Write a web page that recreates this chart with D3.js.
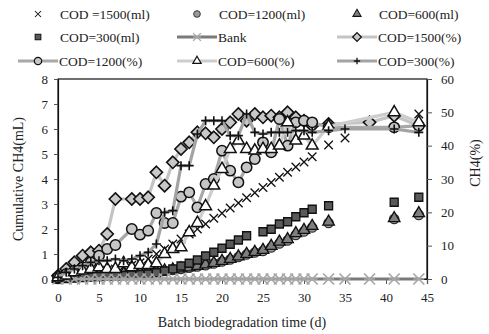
<!DOCTYPE html>
<html lang="en">
<head>
<meta charset="UTF-8">
<title>Cumulative CH4 and CH4 content</title>
<script src="https://d3js.org/d3.v7.min.js"></script>
<style>
  body { margin: 0; background: #fff; }
  text { font-family: "Liberation Serif", "Times New Roman", serif; fill: #222; }
  .tick text { font-size: 13px; }
  .legend text { font-size: 13.5px; }
</style>
</head>
<body>
<svg width="489" height="334"></svg>
<script>
// sampling days
const days = [0,1,2,3,4,5,6,7,8,9,10,11,12,13,14,15,16,17,18,19,20,21,22,23,24,25,26,27,28,29,30,31,33,35,38,41,44];

// cumulative CH4 (mL), left axis
const cod1500ml = [0.05,0.1,0.15,0.2,0.25,0.3,0.35,0.4,0.5,0.55,0.65,0.8,1.0,1.2,1.4,1.6,1.8,2.0,2.2,2.43,2.63,2.84,3.04,3.25,3.45,3.66,3.86,4.07,4.27,4.48,4.68,4.89,5.36,5.64,null,null,6.6];
const cod1200ml = [0,0.05,0.08,0.1,0.12,0.14,0.15,0.16,0.18,0.2,0.22,0.25,0.28,0.32,0.36,0.4,0.45,0.5,0.55,0.62,0.7,0.78,0.88,0.98,1.06,1.12,1.26,1.42,1.54,1.76,1.9,2.06,2.24,null,null,2.4,2.56];
const cod600ml = [0,0.05,0.1,0.12,0.14,0.16,0.18,0.2,0.22,0.24,0.26,0.28,0.3,0.34,0.38,0.42,0.46,0.52,0.58,0.64,0.72,0.8,0.9,1.0,1.08,1.16,1.32,1.49,1.59,1.83,1.96,2.12,2.29,null,null,2.43,2.63];
const cod300ml = [0,0.02,0.04,0.06,0.08,0.1,0.12,0.13,0.14,0.16,0.18,0.2,0.25,0.32,0.4,0.52,0.63,0.76,0.92,1.07,1.23,1.39,1.56,1.73,null,1.89,1.99,2.2,2.29,2.49,2.65,2.79,2.93,null,null,3.07,3.27];

// CH4 content (%), right axis
const bank = days.map(() => 0);
const cod1500pct = [1,3,5,7,8,8.5,13.5,24,null,24,24,24.5,32,28,35,39,41,44,43.7,42.5,45,47,49.5,47.5,49.5,48.5,49,48.5,50,48.5,47.5,46,46.5,null,47,49,46];
const cod1200pct = [0.5,1.5,2.5,3.5,5,7,9,10.2,null,15,13.3,14.5,19.8,16.8,16.8,24.7,26,21.5,28.5,30,38.5,32.5,29,33.5,36,41,38,48,40,47,47.5,47,45.5,null,null,45.5,46];
const cod600pct = [0.5,1,2,2.5,3,3.5,3,3,4.7,3.5,4.2,4.2,4.7,7.5,9,9.5,14,16.8,21.8,28,33,39,41.5,39,38.5,39,39,40,47,41.5,43,40,45.8,null,null,50,47];
const cod300pct = [0.5,2,3,4,5,5.5,5.5,6,5.5,6,7,8,10.5,20,20.5,34,34,43.5,47.5,47.5,47.5,43,43,49.5,44,43.5,44,44,44,44.5,44.5,44,44.5,45,null,45,44];

const xTicks = [0,5,10,15,20,25,30,35,40,45];
const leftTicks = [0,1,2,3,4,5,6,7,8];
const rightTicks = [0,10,20,30,40,50,60];

const svg = d3.select("svg");
const plot = {left: 58, right: 427, top: 79, bottom: 279};

const x = d3.scaleLinear().domain([0, 45]).range([plot.left, plot.right]);
const yL = d3.scaleLinear().domain([0, 8]).range([plot.bottom, plot.top]);
const yR = d3.scaleLinear().domain([0, 60]).range([plot.bottom, plot.top]);

// custom marker shapes (Excel-like)
const times = {draw(c, s) { const r = Math.sqrt(s) / 2; c.moveTo(-r, -r); c.lineTo(r, r); c.moveTo(r, -r); c.lineTo(-r, r); }};
const plus = {draw(c, s) { const r = Math.sqrt(s) / 2; c.moveTo(-r, 0); c.lineTo(r, 0); c.moveTo(0, -r); c.lineTo(0, r); }};
const star = {draw(c, s) { const r = Math.sqrt(s) / 2; c.moveTo(-r, -r); c.lineTo(r, r); c.moveTo(r, -r); c.lineTo(-r, r); c.moveTo(-r, 0); c.lineTo(r, 0); }};
const diamond = {draw(c, s) { const r = Math.sqrt(s) / 2; c.moveTo(0, -r); c.lineTo(r, 0); c.lineTo(0, r); c.lineTo(-r, 0); c.closePath(); }};

const series = [
  {name: "COD =1500(ml)", values: cod1500ml, y: yL, shape: times, size: 72, fill: "none", stroke: "#111", sw: 1.3},
  {name: "COD=1200(ml)", values: cod1200ml, y: yL, shape: d3.symbolCircle, size: 70, fill: "#9a9a9a", stroke: "#333", sw: 1.2},
  {name: "COD=600(ml)", values: cod600ml, y: yL, shape: d3.symbolTriangle, size: 58, fill: "#7f7f7f", stroke: "#111", sw: 1.3},
  {name: "COD=300(ml)", values: cod300ml, y: yL, shape: d3.symbolSquare, size: 64, fill: "#5a5a5a", stroke: "#111", sw: 1.3},
  {name: "Bank", values: bank, y: yR, shape: star, size: 120, fill: "none", stroke: "#a6a6a6", sw: 1.7, line: "#7a7a7a"},
  {name: "COD=1500(%)", values: cod1500pct, y: yR, shape: diamond, size: 150, fill: "#c8c8c8", stroke: "#111", sw: 1.6, line: "#c4c4c4"},
  {name: "COD=1200(%)", values: cod1200pct, y: yR, shape: d3.symbolCircle, size: 85, fill: "#c6c6c6", stroke: "#111", sw: 1.5, line: "#a8a8a8"},
  {name: "COD=600(%)", values: cod600pct, y: yR, shape: d3.symbolTriangle, size: 60, fill: "#fff", stroke: "#111", sw: 1.5, line: "#cdcdcd"},
  {name: "COD=300(%)", values: cod300pct, y: yR, shape: plus, size: 80, fill: "none", stroke: "#111", sw: 1.6, line: "#a3a3a3"}
];

// frame
svg.append("rect")
  .attr("x", plot.left).attr("y", plot.top)
  .attr("width", plot.right - plot.left).attr("height", plot.bottom - plot.top)
  .attr("fill", "none").attr("stroke", "#111").attr("stroke-width", 1.2);

// axes
const gL = svg.append("g").attr("transform", `translate(${plot.left},0)`)
  .call(d3.axisLeft(yL).tickValues(leftTicks).tickSize(4).tickPadding(6));
const gR = svg.append("g").attr("transform", `translate(${plot.right},0)`)
  .call(d3.axisRight(yR).tickValues(rightTicks).tickSize(5).tickPadding(9));
const gX = svg.append("g").attr("transform", `translate(0,${plot.bottom})`)
  .call(d3.axisBottom(x).tickValues(xTicks).tickSize(5).tickPadding(9));
[gL, gR, gX].forEach(g => {
  g.select(".domain").attr("stroke", "#111").attr("stroke-width", 1.2);
  g.selectAll(".tick line").attr("stroke", "#555");
  g.selectAll(".tick text").attr("fill", "#222");
});

// axis titles
svg.append("text").attr("transform", "translate(23,179) rotate(-90)")
  .attr("text-anchor", "middle").attr("font-size", 14).text("Cumulative CH4(mL)");
svg.append("text").attr("transform", "translate(480,163) rotate(-90)")
  .attr("text-anchor", "middle").attr("font-size", 14).text("CH4(%)");
svg.append("text").attr("x", 242).attr("y", 327)
  .attr("text-anchor", "middle").attr("font-size", 14).text("Batch biodegradation time (d)");

// series: lines first, then markers, in series order
series.forEach(s => {
  const pts = days.map((d, i) => [d, s.values[i]]).filter(p => p[1] != null);
  const g = svg.append("g");
  if (s.line) {
    g.append("path")
      .attr("d", d3.line().x(p => x(p[0])).y(p => s.y(p[1]))(pts))
      .attr("fill", "none").attr("stroke", s.line)
      .attr("stroke-width", 3.2).attr("stroke-linejoin", "round");
  }
  g.selectAll("path.m").data(pts).join("path")
    .attr("class", "m")
    .attr("transform", p => `translate(${x(p[0])},${s.y(p[1])})`)
    .attr("d", d3.symbol().type(s.shape).size(s.size))
    .attr("fill", s.fill).attr("stroke", s.stroke).attr("stroke-width", s.sw);
});

// legend, 3 x 3 grid
const legCols = [38, 197, 357];
const legRows = [14, 37, 61];
const leg = svg.append("g").attr("class", "legend");
series.forEach((s, i) => {
  const cx = legCols[i % 3], cy = legRows[Math.floor(i / 3)];
  const g = leg.append("g").attr("transform", `translate(${cx},${cy})`);
  if (s.line) {
    g.append("line").attr("x1", -20).attr("x2", 20)
      .attr("stroke", s.line).attr("stroke-width", 3.2);
  }
  g.append("path")
    .attr("d", d3.symbol().type(s.shape).size(s.size * 0.5))
    .attr("fill", s.fill).attr("stroke", s.stroke).attr("stroke-width", s.sw * 0.8);
  g.append("text").attr("x", s.line ? 21 : 22).attr("y", 5).text(s.name);
});
</script>
</body>
</html>
